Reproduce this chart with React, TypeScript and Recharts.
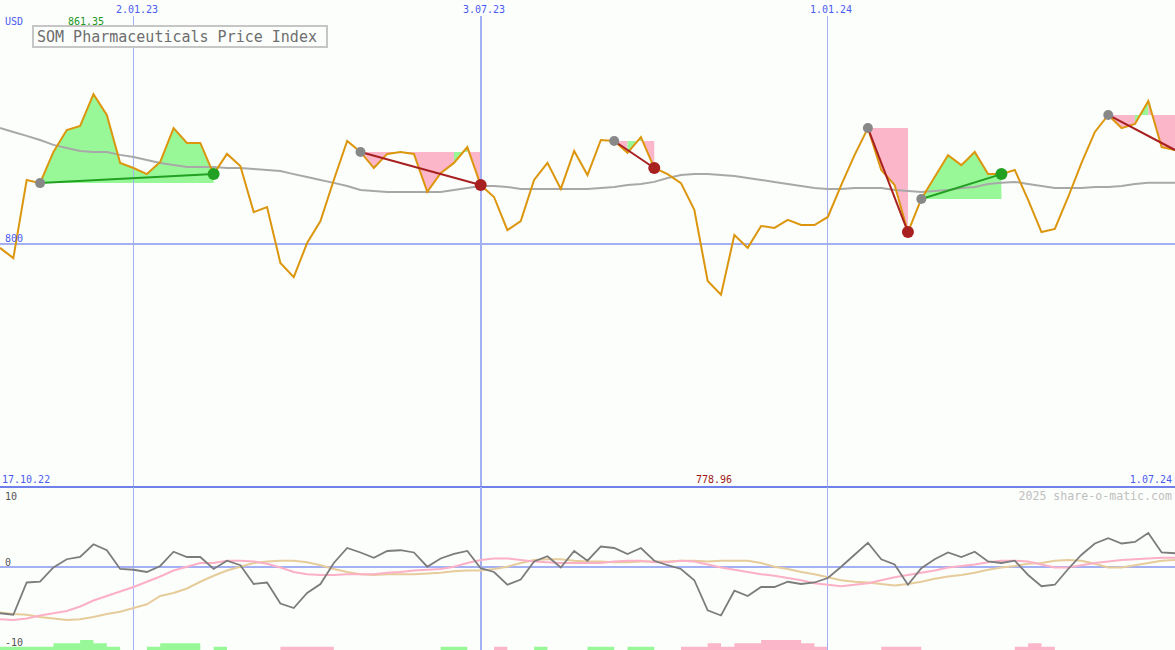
import React from 'react';
import { ComposedChart, Line, Area, XAxis, YAxis, ReferenceLine, ReferenceDot } from 'recharts';

// ---------- data ----------
const price: number[] = [
  798.2, 794.0, 826.1, 824.8, 837.6, 846.6, 848.3, 861.35, 852.8, 833.1,
  831.0, 828.5, 833.5, 847.4, 841.3, 841.3, 828.5, 836.8, 831.8, 812.9,
  815.0, 792.0, 786.2, 800.2, 809.2, 826.1, 842.1, 837.6, 831.0, 836.8,
  837.6, 836.8, 821.2, 828.9, 833.1, 839.6, 824.0, 819.1, 805.5, 809.2,
  826.1, 833.1, 822.4, 838.0, 828.1, 842.5, 842.1, 837.2, 843.7, 831.0,
  828.5, 824.8, 813.8, 784.6, 778.96, 803.5, 798.2, 807.2, 806.4, 809.7,
  807.6, 807.6, 810.9, 824.0, 836.3, 847.4, 830.2, 824.0, 804.7, 818.3,
  827.3, 836.3, 832.2, 837.6, 828.5, 828.5, 830.2, 817.9, 804.7, 806.0,
  819.1, 833.1, 845.8, 852.8, 847.4, 849.1, 858.5, 839.6, 838.4,
];

const movingAvg: number[] = [
  847.4, 845.8, 844.2, 842.5, 840.5, 839.2, 838.0, 837.6, 837.6, 836.4,
  835.5, 834.3, 833.1, 832.2, 831.4, 831.4, 831.4, 831.0, 831.0, 830.6,
  830.2, 829.8, 828.5, 827.3, 826.1, 824.9, 823.6, 822.0, 821.6, 821.2,
  821.2, 821.2, 821.2, 821.2, 822.0, 822.8, 823.6, 823.6, 823.2, 822.4,
  822.4, 822.4, 822.4, 822.4, 822.4, 822.8, 823.2, 824.0, 824.4, 825.3,
  826.9, 828.1, 828.5, 828.5, 828.1, 827.7, 826.9, 826.1, 825.3, 824.4,
  823.6, 822.8, 822.4, 822.4, 822.8, 822.8, 822.8, 822.0, 821.6, 821.2,
  821.6, 822.0, 822.8, 823.2, 824.4, 824.9, 825.3, 824.4, 823.6, 822.8,
  822.8, 822.8, 823.2, 823.2, 823.6, 824.4, 824.9, 824.9, 824.9,
];

const oscillator: number[] = [
  -6.1, -6.3, -2.0, -1.9, 0.0, 1.1, 1.4, 3.1, 2.3, -0.2,
  -0.3, -0.6, 0.2, 2.1, 1.4, 1.4, -0.2, 0.9, 0.3, -2.2,
  -2.0, -4.8, -5.4, -3.4, -2.2, 0.6, 2.6, 2.0, 1.3, 2.2,
  2.3, 2.0, 0.1, 1.2, 1.8, 2.2, -0.1, -0.6, -2.3, -1.6,
  0.8, 1.5, 0.0, 2.2, 0.9, 2.8, 2.6, 1.8, 2.6, 0.9,
  0.3, -0.2, -1.7, -5.7, -6.4, -3.1, -3.8, -2.6, -2.6, -1.9,
  -2.2, -2.0, -1.4, 0.1, 1.7, 3.3, 1.1, 0.4, -2.3, -0.1,
  1.1, 2.0, 1.4, 2.1, 0.8, 0.6, 0.9, -1.0, -2.5, -2.3,
  -0.2, 1.7, 3.2, 3.9, 3.2, 3.4, 4.6, 2.0, 1.9,
];

const signalPink: number[] = [
  -6.9, -7.0, -6.8, -6.4, -6.1, -5.8, -5.2, -4.4, -3.8, -3.2,
  -2.6, -1.9, -1.2, -0.4, 0.1, 0.6, 0.6, 0.9, 0.9, 0.8,
  0.5, 0.0, -0.6, -0.9, -1.0, -1.0, -0.9, -0.9, -0.9, -0.7,
  -0.6, -0.4, -0.3, -0.2, 0.1, 0.6, 1.0, 1.2, 1.2, 1.0,
  0.8, 0.7, 0.6, 0.6, 0.6, 0.6, 0.8, 0.9, 0.9, 0.7,
  0.7, 0.9, 0.8, 0.4, 0.0, -0.3, -0.6, -0.9, -1.1, -1.4,
  -1.7, -2.1, -2.3, -2.5, -2.3, -2.1, -1.7, -1.3, -1.0, -0.7,
  -0.4, 0.0, 0.2, 0.4, 0.7, 0.9, 0.9, 0.8, 0.4, 0.0,
  0.0, 0.3, 0.6, 0.8, 1.0, 1.1, 1.2, 1.3, 1.3,
];

const signalTan: number[] = [
  -6.0, -6.2, -6.3, -6.6, -6.8, -7.0, -6.9, -6.6, -6.2, -5.9,
  -5.4, -4.9, -3.8, -3.4, -2.8, -1.9, -1.1, -0.4, 0.1, 0.6,
  0.8, 0.9, 0.9, 0.7, 0.3, -0.2, -0.6, -0.9, -1.0, -0.9,
  -0.9, -0.9, -0.8, -0.7, -0.5, -0.4, -0.4, -0.2, 0.1, 0.6,
  1.0, 1.1, 1.1, 0.9, 0.8, 0.8, 0.7, 0.7, 0.8, 0.8,
  0.8, 0.9, 0.9, 0.8, 0.9, 0.9, 0.9, 0.6, 0.1, -0.2,
  -0.6, -0.9, -1.3, -1.7, -1.9, -2.0, -2.2, -2.4, -2.2, -1.9,
  -1.5, -1.2, -1.0, -0.7, -0.3, 0.0, 0.2, 0.5, 0.6, 0.9,
  1.0, 0.9, 0.5, 0.0, 0.0, 0.3, 0.6, 0.9, 1.0,
];

// signed histogram levels: + green, - pink
const histogram: number[] = [
  1, 1, 1, 1, 2, 2, 3, 2, 1, 0,
  0, 1, 2, 2, 2, 0, 1, 0, 0, 0,
  0, -1, -1, -1, -1, 0, 0, 0, 0, 0,
  0, 0, 0, 1, 1, 0, 0, -1, 0, 0,
  1, 0, 0, 0, 1, 1, 0, 1, 1, 0,
  0, -1, -1, -2, -1, -2, -2, -3, -3, -3,
  -2, -1, 0, 0, 0, 0, -1, -1, -1, 0,
  0, 0, 0, 0, 0, 0, -1, -2, -1, 0,
  0, 0, 0, 0, 0, 0, 0, 0, 0,
];

const segStart: number[] = [3, 27, 46, 65, 69, 83];
const segEnd: number[] = [16, 36, 49, 68, 75, 88];
const segClosed: boolean[] = [true, true, true, true, true, false];

const gridIdx: number[] = [10, 36, 62];
const gridLabels: string[] = ['2.01.23', '3.07.23', '1.01.24'];
const firstDate = '17.10.22';
const lastDate = '1.07.24';
const currency = 'USD';
const title = 'SOM Pharmaceuticals Price Index';
const levelLabel = 800;
const oscTicks: number[] = [10, 0, -10];
const credit = '2025 share-o-matic.com';

// ---------- styles ----------
const W = 1175;
const BG = '#fcfefc';
const GRID = '#a4b0f4';
const BLUE_TXT = '#4a5cf0';
const MONO = '"DejaVu Sans Mono", "Liberation Mono", monospace';
const GREEN_FILL = '#98f898';
const PINK_FILL = '#fbb6ca';
const GREEN_LINE = '#22a022';
const RED_LINE = '#a82020';

// ---------- derived tables ----------
const maxVal = Math.max(...price);
const minVal = Math.min(...price);

const mainData: any[] = price.map((p, i) => ({ x: i, price: p, ma: movingAvg[i] }));
// each interval of a segment is filled between the segment's start level and the price,
// green when the interval ends above the start level, pink otherwise
const fillRuns: { key: string; color: string }[] = [];
segStart.forEach((s, k) => {
  const e = segEnd[k];
  const b = price[s];
  let r = -1;
  let prevUp: boolean | null = null;
  for (let i = s; i < e; i++) {
    const up = price[i + 1] > b;
    if (up !== prevUp) {
      r++;
      fillRuns.push({ key: 'f' + k + '_' + r, color: up ? GREEN_FILL : PINK_FILL });
      prevUp = up;
    }
    const key = 'f' + k + '_' + r;
    mainData[i][key] = [b, price[i]];
    mainData[i + 1][key] = [b, price[i + 1]];
  }
});

const lowData = price.map((_, i) => ({
  x: i,
  osc: oscillator[i],
  pink: signalPink[i],
  tan: signalTan[i],
  hg: histogram[i] > 0 ? histogram[i] : 0,
  hp: histogram[i] < 0 ? -histogram[i] : 0,
}));

export default function App() {
  const n = price.length - 1;
  return (
    <div style={{ position: 'relative', width: W, height: 650, background: BG, overflow: 'hidden' }}>
      <style>{'body{margin:0;}'}</style>
      {/* main price panel */}
      <div style={{ position: 'absolute', left: 0, top: 0 }}>
        <ComposedChart width={W} height={489} data={mainData} margin={{ top: 0, right: 0, bottom: 2, left: 0 }}>
          <XAxis dataKey="x" type="number" domain={[0, n]} hide allowDataOverflow />
          <YAxis type="number" domain={[700, 900]} hide allowDataOverflow />
          {gridIdx.map((g, i) => (
            <ReferenceLine
              key={'g' + i}
              segment={[{ x: g, y: 893.4 }, { x: g, y: 700 }]}
              stroke={GRID}
              strokeWidth={i === 1 ? 2 : 1}
              shapeRendering="crispEdges"
            />
          ))}
          <ReferenceLine y={levelLabel} stroke={GRID} strokeWidth={2} shapeRendering="crispEdges" />
          {fillRuns.map((run) => (
            <Area
              key={run.key}
              dataKey={run.key}
              type="linear"
              fill={run.color}
              fillOpacity={1}
              stroke="none"
              isAnimationActive={false}
              dot={false}
              activeDot={false}
              legendType="none"
            />
          ))}
          <Line dataKey="ma" type="linear" stroke="#a8a8a8" strokeWidth={2} dot={false} activeDot={false} isAnimationActive={false} />
          <Line dataKey="price" type="linear" stroke="#dc960e" strokeWidth={2} dot={false} activeDot={false} isAnimationActive={false} />
          {segStart.map((s, k) => (
            <ReferenceLine
              key={'t' + k}
              segment={[{ x: s, y: price[s] }, { x: segEnd[k], y: price[segEnd[k]] }]}
              stroke={price[segEnd[k]] >= price[s] ? GREEN_LINE : RED_LINE}
              strokeWidth={2}
            />
          ))}
          {segStart.map((s, k) => (
            <ReferenceDot key={'ds' + k} x={s} y={price[s]} r={5} fill="#888888" stroke="none" />
          ))}
          {segStart.map((s, k) =>
            segClosed[k] ? (
              <ReferenceDot
                key={'de' + k}
                x={segEnd[k]}
                y={price[segEnd[k]]}
                r={6}
                fill={price[segEnd[k]] >= price[s] ? GREEN_LINE : RED_LINE}
                stroke="none"
              />
            ) : null
          )}
          <ReferenceLine y={700} stroke="#6f80ea" strokeWidth={2} shapeRendering="crispEdges" />
        </ComposedChart>
      </div>

      {/* lower indicator panel */}
      <div style={{ position: 'absolute', left: 0, top: 487 }}>
        <ComposedChart width={W} height={163} data={lowData} margin={{ top: 0, right: 0, bottom: 0, left: 0 }}>
          <XAxis dataKey="x" type="number" domain={[0, n]} hide allowDataOverflow />
          <YAxis yAxisId="osc" type="number" domain={[-11, 10.73]} hide allowDataOverflow />
          <YAxis yAxisId="hist" type="number" domain={[0, 49]} hide allowDataOverflow />
          {gridIdx.map((g, i) => (
            <ReferenceLine key={'lg' + i} yAxisId="osc" x={g} stroke={GRID} strokeWidth={i === 1 ? 2 : 1} shapeRendering="crispEdges" />
          ))}
          <ReferenceLine yAxisId="osc" y={0} stroke={GRID} strokeWidth={2} shapeRendering="crispEdges" />
          <Area yAxisId="hist" dataKey="hg" type="stepAfter" fill={GREEN_FILL} fillOpacity={1} stroke="none" isAnimationActive={false} dot={false} activeDot={false} />
          <Area yAxisId="hist" dataKey="hp" type="stepAfter" fill={PINK_FILL} fillOpacity={1} stroke="none" isAnimationActive={false} dot={false} activeDot={false} />
          <Line yAxisId="osc" dataKey="tan" type="linear" stroke="#e6cc9a" strokeWidth={2} dot={false} activeDot={false} isAnimationActive={false} />
          <Line yAxisId="osc" dataKey="pink" type="linear" stroke="#fbb0c6" strokeWidth={2} dot={false} activeDot={false} isAnimationActive={false} />
          <Line yAxisId="osc" dataKey="osc" type="linear" stroke="#7c7c7c" strokeWidth={1.8} dot={false} activeDot={false} isAnimationActive={false} />
        </ComposedChart>
      </div>

      {/* text overlay */}
      <svg width={W} height={650} style={{ position: 'absolute', left: 0, top: 0, pointerEvents: 'none' }}>
        <g fontFamily={MONO} fontSize={10}>
          {gridLabels.map((t, i) => (
            <text key={'gl' + i} x={[137, 484, 831][i]} y={13} textAnchor="middle" fill={BLUE_TXT}>{t}</text>
          ))}
          <text x={5} y={25} fill={BLUE_TXT}>{currency}</text>
          <text x={68} y={25} fill="#229922">{maxVal.toFixed(2)}</text>
          <text x={5} y={242} fill={BLUE_TXT}>{levelLabel}</text>
          <text x={2} y={483} fill={BLUE_TXT}>{firstDate}</text>
          <text x={696} y={483} fill="#a01818">{minVal.toFixed(2)}</text>
          <text x={1172} y={483} textAnchor="end" fill={BLUE_TXT}>{lastDate}</text>
          {oscTicks.map((t, i) => (
            <text key={'ot' + i} x={5} y={[500, 566, 646][i]} fill="#555555">{t}</text>
          ))}
        </g>
        <text x={1172} y={500} textAnchor="end" fontFamily={MONO} fontSize={11.6} fill="#c0c0c0">{credit}</text>
        <rect x={33} y={26} width={294} height={21} fill={BG} stroke="#c6c6c6" strokeWidth={2} />
        <text x={37} y={41.5} fontFamily={MONO} fontSize={15} fill="#6e6e6e">{title}</text>
      </svg>
    </div>
  );
}
